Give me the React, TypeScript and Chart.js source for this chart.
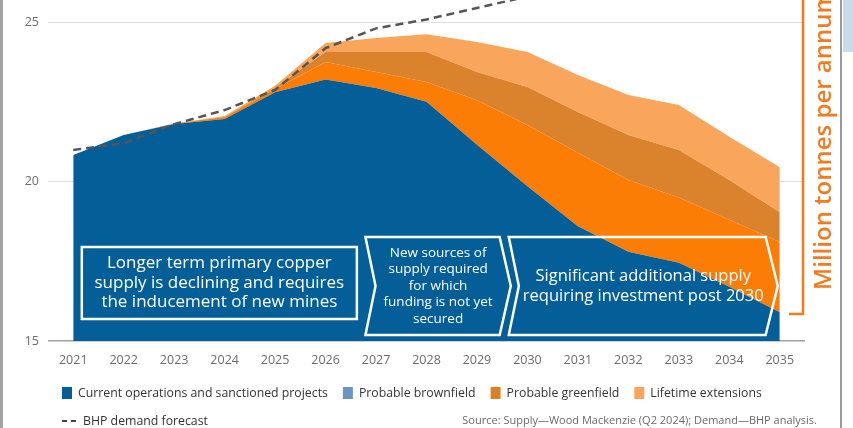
import React, { useEffect, useRef } from "react";
import { Chart, registerables } from "chart.js";

Chart.register(...registerables);

const years = ["2021", "2022", "2023", "2024", "2025", "2026", "2027", "2028", "2029", "2030", "2031", "2032", "2033", "2034", "2035"];
const currentOps = [20.83, 21.46, 21.8, 21.96, 22.8, 23.2, 22.93, 22.5, 21.15, 19.85, 18.6, 17.8, 17.45, 16.7, 15.9];
const brownfield = [0, 0, 0.02, 0.06, 0.1, 0.55, 0.5, 0.62, 1.4, 1.92, 2.3, 2.25, 2.05, 2.1, 2.2];
const greenfield = [0, 0, 0, 0.01, 0.05, 0.31, 0.63, 0.94, 0.88, 1.19, 1.28, 1.41, 1.49, 1.25, 0.94];
const lifetime = [0, 0, 0, 0.02, 0.05, 0.28, 0.44, 0.56, 0.94, 1.1, 1.16, 1.25, 1.41, 1.35, 1.41];
const demand = [20.99, 21.2, 21.8, 22.24, 22.87, 24.18, 24.8, 25.08, 25.44, 25.8, 26.2, 26.6, 27.0, 27.4, 27.8];

const seriesNames = ["Current operations and sanctioned projects", "Probable brownfield", "Probable greenfield", "Lifetime extensions"];
const demandName = "BHP demand forecast";
const fillColors = ["#045e97", "#fc7d06", "#db832c", "#f9a65c"];
const legendColors = ["#045e97", "#6b96bf", "#dc7f27", "#f9a65c"];
const yTicks = [15, 20, 25];
const sourceText = "Source: Supply\u2014Wood Mackenzie (Q2 2024); Demand\u2014BHP analysis.";
const axisTitle = "Million tonnes per annum";

// annotation boxes (x in category index units, y in value units)
const callouts = [
  { kind: "rect", x0: 0.17, x1: 5.62, yTop: 17.95, yBot: 15.69, size: 17, lh: 19.5, lines: ["Longer term primary copper", "supply is declining and requires", "the inducement of new mines"] },
  { kind: "chev", x0: 5.79, xn: 5.99, x1: 8.45, xt: 8.67, yTop: 18.26, yBot: 15.19, size: 13.5, lh: 16.5, lines: ["New sources of", "supply required", "for which", "funding is not yet", "secured"] },
  { kind: "chev", x0: 8.63, xn: 8.83, x1: 13.72, xt: 13.96, yTop: 18.26, yBot: 15.19, size: 16.5, lh: 20, lines: ["Significant additional supply", "requiring investment post 2030"] },
];

const FONT = "'Open Sans', sans-serif";

const overlayPlugin = {
  id: "overlay",
  afterDatasetsDraw(chart: any) {
    const ctx = chart.ctx;
    const xs = chart.scales.x;
    const ys = chart.scales.y;
    ctx.save();
    ctx.strokeStyle = "#ffffff";
    ctx.lineWidth = 2.5;
    ctx.lineJoin = "miter";
    callouts.forEach((c: any) => {
      const top = ys.getPixelForValue(c.yTop);
      const bot = ys.getPixelForValue(c.yBot);
      const mid = (top + bot) / 2;
      const x0 = xs.getPixelForValue(c.x0);
      const x1 = xs.getPixelForValue(c.x1);
      ctx.beginPath();
      let cx;
      if (c.kind === "rect") {
        ctx.rect(x0, top, x1 - x0, bot - top);
        cx = (x0 + x1) / 2;
      } else {
        const xn = xs.getPixelForValue(c.xn);
        const xt = xs.getPixelForValue(c.xt);
        ctx.moveTo(x0, top);
        ctx.lineTo(x1, top);
        ctx.lineTo(xt, mid);
        ctx.lineTo(x1, bot);
        ctx.lineTo(x0, bot);
        ctx.lineTo(xn, mid);
        ctx.closePath();
        cx = (x0 + xt) / 2;
      }
      ctx.stroke();
      ctx.fillStyle = "#ffffff";
      ctx.font = `500 ${c.size}px ${FONT}`;
      ctx.textAlign = "center";
      ctx.textBaseline = "middle";
      const n = c.lines.length;
      c.lines.forEach((t: string, i: number) => {
        ctx.fillText(t, cx, mid + (i - (n - 1) / 2) * c.lh);
      });
    });
    ctx.restore();
  },
  afterDraw(chart: any) {
    const ctx = chart.ctx;
    const W = chart.width;
    const H = chart.height;
    const area = chart.chartArea;
    ctx.save();
    // left page edge
    ctx.fillStyle = "#a3a3a3";
    ctx.fillRect(0, 0, 3, H);
    // right page edge + panel
    ctx.fillStyle = "#9a9a9a";
    ctx.fillRect(W - 13, 0, 2, H);
    ctx.fillStyle = "#c7dbea";
    ctx.fillRect(W - 10, 0, 10, 52);

    // orange bracket and vertical title
    const bx = area.right - 2;
    const by = chart.scales.y.getPixelForValue(15.85);
    ctx.strokeStyle = "#f47a1f";
    ctx.lineWidth = 2.5;
    ctx.beginPath();
    ctx.moveTo(bx, 0);
    ctx.lineTo(bx, by);
    ctx.lineTo(bx - 14, by);
    ctx.stroke();
    ctx.translate(bx + 21, by - 24);
    ctx.rotate(-Math.PI / 2);
    ctx.fillStyle = "#f47a1f";
    ctx.font = `600 24px ${FONT}`;
    ctx.textAlign = "left";
    ctx.textBaseline = "middle";
    ctx.fillText(axisTitle, 0, 0);
    ctx.setTransform(1, 0, 0, 1, 0, 0);

    // legend row 1
    ctx.font = `400 12.3px ${FONT}`;
    ctx.textBaseline = "middle";
    ctx.textAlign = "left";
    let x = 62;
    const rowY = 393;
    seriesNames.forEach((name, i) => {
      ctx.fillStyle = legendColors[i];
      ctx.fillRect(x, rowY - 6, 10, 12);
      ctx.fillStyle = "#333333";
      ctx.fillText(name, x + 16, rowY);
      x += 16 + ctx.measureText(name).width + 15;
    });
    // legend row 2 (dashed)
    const row2 = 421;
    ctx.strokeStyle = "#444444";
    ctx.lineWidth = 2;
    ctx.setLineDash([5, 4]);
    ctx.beginPath();
    ctx.moveTo(62, row2);
    ctx.lineTo(78, row2);
    ctx.stroke();
    ctx.setLineDash([]);
    ctx.fillStyle = "#333333";
    ctx.fillText(demandName, 83, row2);
    // source
    ctx.font = `400 11px ${FONT}`;
    ctx.fillStyle = "#6a6a6a";
    ctx.textAlign = "right";
    ctx.fillText(sourceText, 817, row2);
    ctx.restore();
  },
};

export default function App() {
  const ref = useRef<HTMLCanvasElement>(null);
  useEffect(() => {
    if (!ref.current) return;
    const layers = [currentOps, brownfield, greenfield, lifetime];
    const chart = new Chart(ref.current, {
      type: "line",
      data: {
        labels: years,
        datasets: [
          {
            label: demandName,
            data: demand,
            stack: "demand",
            borderColor: "#555555",
            borderWidth: 2.5,
            borderDash: [8, 5],
            pointRadius: 0,
            fill: false,
            tension: 0,
          } as any,
          ...layers.map((d, i) => ({
            label: seriesNames[i],
            data: d,
            stack: "supply",
            backgroundColor: fillColors[i],
            borderColor: fillColors[i],
            borderWidth: 0,
            pointRadius: 0,
            fill: i === 0 ? "start" : "-1",
            tension: 0,
          })),
        ],
      },
      options: {
        animation: false,
        responsive: false,
        devicePixelRatio: 1,
        layout: { padding: { top: 0, right: 48, left: 0, bottom: 0 } },
        plugins: { legend: { display: false }, tooltip: { enabled: false } },
        scales: {
          x: {
            type: "category",
            offset: true,
            grid: { display: false, drawTicks: false },
            border: { display: false },
            ticks: { color: "#6b6b6b", font: { family: FONT, size: 12.5 }, padding: 12, maxRotation: 0 },
            afterFit: (s: any) => { s.height = 87; s.paddingLeft = 0; s.paddingRight = 0; },
          },
          y: {
            stacked: true,
            min: 15,
            max: 25.69,
            afterBuildTicks: (s: any) => { s.ticks = yTicks.map((v) => ({ value: v })); },
            ticks: { color: "#6b6b6b", font: { family: FONT, size: 12.5 }, padding: 9, includeBounds: false },
            grid: {
              drawTicks: false,
              color: (c: any) => (c.tick && c.tick.value === 15 ? "#a0a0a0" : "#dedede"),
              lineWidth: (c: any) => (c.tick && c.tick.value === 15 ? 1.5 : 1),
            },
            border: { display: false },
            afterFit: (s: any) => { s.width = 48; s.paddingTop = 0; s.paddingBottom = 0; },
          },
        },
      } as any,
      plugins: [overlayPlugin],
    });
    return () => chart.destroy();
  }, []);
  return (
    <div style={{ position: "fixed", left: 0, top: 0, width: 853, height: 428, background: "#fff" }}>
      <canvas ref={ref} width={853} height={428} />
    </div>
  );
}
